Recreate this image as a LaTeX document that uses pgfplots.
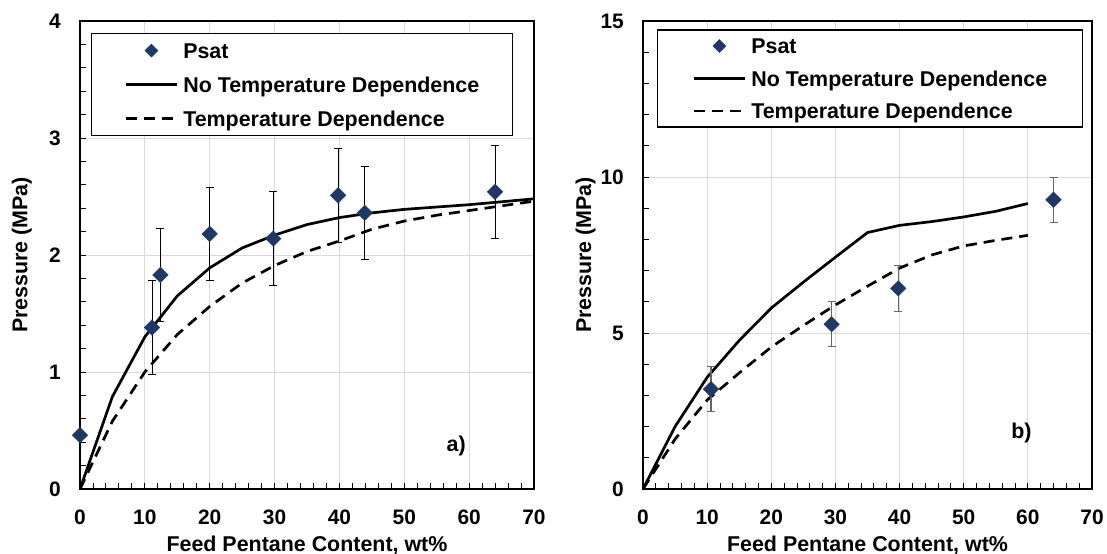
\documentclass[border=0pt]{standalone}
\usepackage{fontspec}
\setmainfont{Liberation Sans}
\usepackage{pgfplots}
\usepackage{pgfplotstable}
\pgfplotsset{compat=1.18}
\definecolor{psat}{HTML}{203864}
\definecolor{gridc}{HTML}{D9D9D9}

\pgfplotstableread{
x y e
0 0.46 0
11.1 1.38 0.4
12.4 1.83 0.4
20 2.18 0.4
29.8 2.14 0.4
39.8 2.51 0.4
43.9 2.36 0.4
64 2.54 0.4
}\psatA
\pgfplotstableread{
x y
0 0
5 0.79
10 1.30
15 1.65
20 1.89
25 2.06
30 2.17
35 2.26
40 2.32
45 2.36
50 2.39
55 2.41
60 2.43
65 2.455
70 2.48
}\solidA
\pgfplotstableread{
x y
0 0
5 0.58
10 1.0
15 1.32
20 1.56
25 1.76
30 1.91
35 2.03
40 2.12
45 2.22
50 2.29
55 2.34
60 2.38
65 2.42
70 2.46
}\dashA
\pgfplotstableread{
x y e
10.6 3.2 0.72
29.4 5.28 0.72
39.8 6.43 0.73
64 9.27 0.72
}\psatB
\pgfplotstableread{
x y
0 0
5 2.0
10 3.58
15 4.76
20 5.8
25 6.63
30 7.43
35 8.22
40 8.45
45 8.57
50 8.72
55 8.9
60 9.15
}\solidB
\pgfplotstableread{
x y
0 0
5 1.6
10 2.85
15 3.72
20 4.55
25 5.24
30 5.9
35 6.5
40 7.08
45 7.5
50 7.79
55 7.97
60 8.13
}\dashB

\newcommand{\lblfont}{\bfseries\fontsize{21.5}{26}\selectfont}
\pgfplotsset{
  myaxis/.style={
    scale only axis,
    height=468bp,
    xmin=0, xmax=70, xtick={0,10,...,70},
    minor x tick num=4, minor y tick num=4,
    grid=major, major grid style={gridc, line width=0.9bp},
    tick pos=left, tick align=inside,
    major tick length=6bp, minor tick length=6bp,
    every tick/.style={black, line width=0.9bp},
    axis line style={black, line width=1.2bp},
    clip mode=individual,
    /pgf/number format/assume math mode=true,
    tick label style={font=\bfseries\fontsize{21}{25}\selectfont},
    xticklabel style={anchor=base, yshift=-35bp},
    yticklabel style={anchor=base east, inner sep=0pt, xshift=-19bp, yshift=-7.5bp},
    label style={font=\lblfont},
    xlabel={Feed Pentane Content, wt\%},
    ylabel={Pressure (MPa)},
    xlabel style={at={(axis description cs:0.5,-0.121)}, anchor=center},
    legend style={anchor=north west, draw=black, line width=1.2bp, fill=white,
      inner ysep=7bp, row sep=14bp, column sep=5bp,
      nodes={inner sep=0pt, text height=17.5bp, text depth=2.5bp},
      font=\lblfont, cells={anchor=base west}},
  },
  markimg/.style={only marks, mark=square*, mark size=5.5bp,
    mark options={rotate=45, fill=psat, draw=psat, line width=0.4bp},
    legend image code/.code={\path[draw=none,fill=none] (0bp,2.5bp) rectangle (51bp,12.5bp);
      \draw[mark repeat=2,mark phase=2,##1,mark size=4.6bp] plot coordinates {(0bp,7.5bp) (25.5bp,7.5bp) (51bp,7.5bp)};}},
  lineimg/.style={legend image code/.code={\path[draw=none,fill=none] (0bp,2.5bp) rectangle (51bp,12.5bp);
      \draw[##1] (0bp,7.5bp) -- (51bp,7.5bp);}},
  solidsty/.style={black, line width=2.7bp},
  dashsty/.style={black, line width=2.7bp, dash pattern=on 11bp off 7bp},
  errsty/.style={error bars/.cd, y dir=both, y explicit,
    error bar style={black, line width=0.8bp},
    error mark options={rotate=90, mark size=4bp, black, line width=0.8bp}},
  errstyB/.style={error bars/.cd, y dir=both, y explicit,
    error bar style={black!60, line width=1.2bp},
    error mark options={rotate=90, mark size=4bp, black!60, line width=1.2bp}},
}

\begin{document}
\begin{tikzpicture}
\path[use as bounding box] (-80bp,-65bp) rectangle (1027bp,489bp);
% ---- panel a
\begin{axis}[myaxis, width=454bp,
  ymin=0, ymax=4, ytick={0,1,2,3,4},
  ylabel style={at={(axis description cs:-0.128,0.5)}, anchor=center},
  legend style={at={(axis description cs:0.0242,0.9744)}, inner xsep=33bp}]
\addlegendimage{markimg}
\addlegendentry{Psat}
\addlegendimage{solidsty, lineimg}
\addlegendentry{No Temperature Dependence}
\addlegendimage{dashsty, lineimg}
\addlegendentry{Temperature Dependence}
\addplot[solidsty, forget plot] table[x=x,y=y]{\solidA};
\addplot[dashsty, forget plot] table[x=x,y=y]{\dashA};
\addplot[markimg, forget plot, errsty] table[x=x,y=y,y error=e]{\psatA};
\node[font=\lblfont] at (axis cs:58,0.37) {a)};
\end{axis}
% ---- panel b
\begin{axis}[myaxis, at={(563bp,0bp)}, width=449bp,
  ymin=0, ymax=15, ytick={0,5,10,15},
  ylabel style={at={(axis description cs:-0.128,0.5)}, anchor=center},
  legend style={at={(axis description cs:0.0312,0.982)}, inner xsep=35bp, inner ysep=6bp, row sep=12.5bp}]
\addlegendimage{markimg}
\addlegendentry{Psat}
\addlegendimage{solidsty, lineimg}
\addlegendentry{No Temperature Dependence}
\addlegendimage{dashsty, lineimg}
\addlegendentry{Temperature Dependence}
\addplot[solidsty, forget plot] table[x=x,y=y]{\solidB};
\addplot[dashsty, forget plot] table[x=x,y=y]{\dashB};
\addplot[markimg, forget plot, errstyB] table[x=x,y=y,y error=e]{\psatB};
\node[font=\lblfont] at (axis cs:59,1.8) {b)};
\end{axis}
\end{tikzpicture}
\end{document}
